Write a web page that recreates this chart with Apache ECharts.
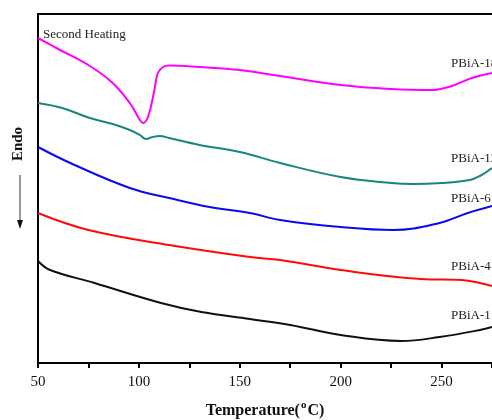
<!DOCTYPE html>
<html>
<head>
<meta charset="utf-8">
<script src="https://cdn.jsdelivr.net/npm/echarts@6/dist/echarts.min.js"></script>
<style>html,body{margin:0;padding:0;background:#fff}#c{width:492px;height:420px}</style>
</head>
<body>
<div id="c"></div>
<script>
// Temperature (°C) and heat-flow (arbitrary units, offset curves)
var tPBiA18 = [50,60,75.7,87,95.5,100.5,102,104.5,107.4,109.4,112,115,130,150,170,200,225,245,255,265,275];
var vPBiA18 = [325,314,297,280,260,243,240,246,270,290,296,297.5,296,293,287,278,274,273,277,285,290];

var tPBiA12 = [50,62,75.7,87,95.5,100.5,103.5,106.8,110.4,115,130,150,170,200,225,236,250,264,269,275];
var vPBiA12 = [260,255,245,239,233,228,224,226,227,225,218,211,200,186,180,179,180,183,187,195];

var tPBiA6 = [50,66,95.5,115,135,155,170,200,226,249,263,275];
var vPBiA6 = [216,200,175,165,156,150,143,136,133,140,150,157];

var tPBiA4 = [50,75,115,155,170,200,240,260,269,275];
var vPBiA4 = [150,133,118,106,103,93,84,83,80,77];

var tPBiA1 = [50,56,78,111,131,155,175,200,230,249,269,275];
var vPBiA1 = [102,93,80,60,51,44,38,28,22,26,33,36];

var seriesNames = ['PBiA-18','PBiA-12','PBiA-6','PBiA-4','PBiA-1'];
var seriesColors = ['#ff00ff','#16877a','#0a0af0','#ff0a0a','#111111'];
var xTicks = [50,100,150,200,250];

function pairs(t, v){ return t.map(function(x,i){ return [x, v[i]]; }); }
var allT = [tPBiA18,tPBiA12,tPBiA6,tPBiA4,tPBiA1];
var allV = [vPBiA18,vPBiA12,vPBiA6,vPBiA4,vPBiA1];

var chart = echarts.init(document.getElementById('c'), null, {renderer:'canvas'});
var serif = '"Liberation Serif","DejaVu Serif",serif';
var series = seriesNames.map(function(n,i){
  return {
    name:n, type:'line', data:pairs(allT[i], allV[i]), showSymbol:false,
    smooth:0.4,
    lineStyle:{color:seriesColors[i], width:2}, itemStyle:{color:seriesColors[i]},
    silent:true, animation:false
  };
});
var labelY = [65,160,200,268,317];
var graphics = seriesNames.map(function(n,i){
  return {type:'text', left:451, top:labelY[i]-8, style:{text:n, font:'13px '+serif, fill:'#222'}, silent:true};
});
graphics.push({type:'text', left:43, top:28, style:{text:'Second Heating', font:'13px '+serif, fill:'#222'}});
graphics.push({type:'text', x:18, y:144, rotation:Math.PI/2, style:{text:'Endo', font:'bold 15px '+serif, fill:'#111', align:'center', verticalAlign:'middle'}});
graphics.push({type:'line', shape:{x1:20,y1:175,x2:20,y2:222}, style:{stroke:'#333', lineWidth:1}});
graphics.push({type:'polygon', shape:{points:[[17,220],[23,220],[20,229]]}, style:{fill:'#111'}});

chart.setOption({
  animation:false,
  backgroundColor:'#fff',
  grid:{left:38, right:0, top:14, bottom:57, containLabel:false, outerBoundsMode:'none'},
  xAxis:[{
    type:'value', min:50, max:275, interval:50, position:'bottom',
    axisLine:{show:true, onZero:false, lineStyle:{color:'#000', width:2}},
    axisTick:{show:true, inside:false, length:5, lineStyle:{color:'#000', width:2}},
    minorTick:{show:true, splitNumber:2, length:5, lineStyle:{color:'#000', width:2}},
    splitLine:{show:false},
    axisLabel:{color:'#111', fontSize:15, fontFamily:serif, margin:12,
      formatter:function(v){ return xTicks.indexOf(v) >= 0 ? String(v) : ''; }},
    name:'{b|Temperature(}{s|o}{b|C)}', nameLocation:'middle', nameGap:37,
    nameTextStyle:{rich:{b:{fontSize:16, fontWeight:'bold', fontFamily:serif, color:'#111', lineHeight:22},
      s:{fontSize:11, fontWeight:'bold', fontFamily:serif, color:'#111', lineHeight:22, padding:[0,1,12,1]}}}
  },{
    type:'value', min:50, max:275, position:'top',
    axisLine:{show:true, onZero:false, lineStyle:{color:'#000', width:2}},
    axisTick:{show:false}, axisLabel:{show:false}, splitLine:{show:false}
  }],
  yAxis:{
    type:'value', min:0, max:349,
    axisLine:{show:true, onZero:false, lineStyle:{color:'#000', width:2}},
    axisTick:{show:false}, axisLabel:{show:false}, splitLine:{show:false}
  },
  series:series,
  graphic:graphics
});
</script>
</body>
</html>
